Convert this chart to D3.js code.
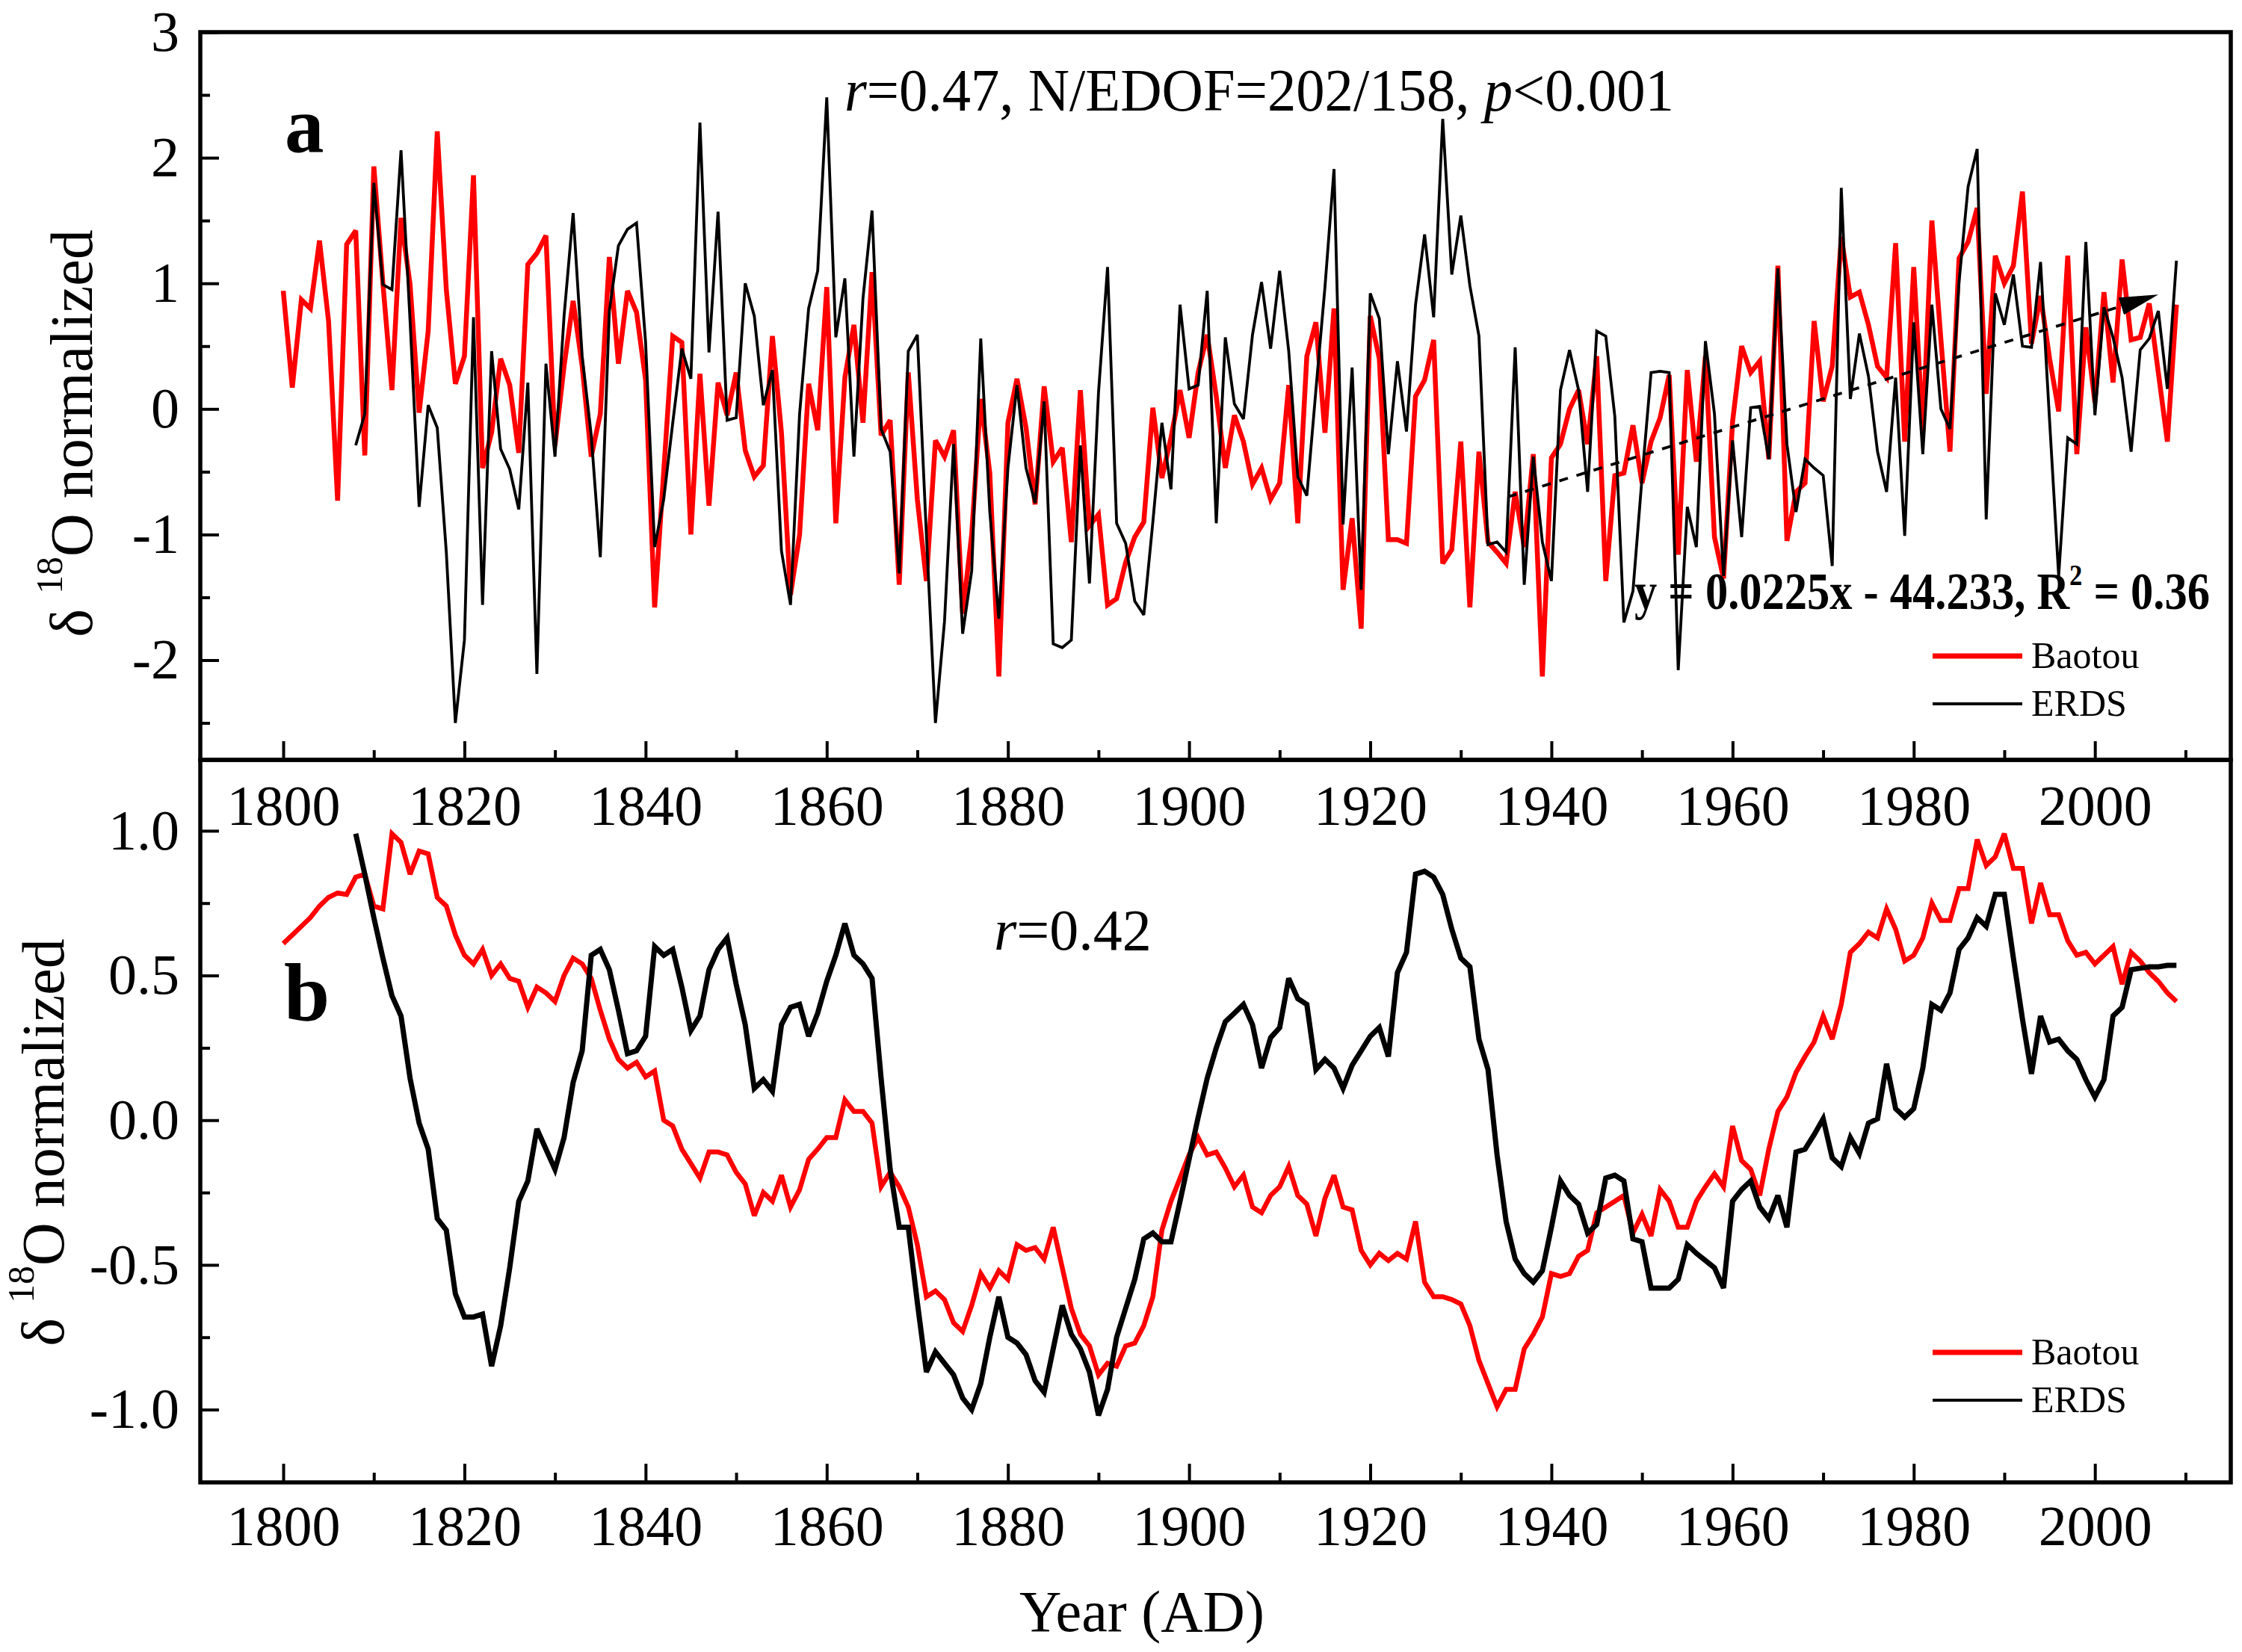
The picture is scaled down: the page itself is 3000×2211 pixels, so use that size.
<!DOCTYPE html>
<html lang="en">
<head>
<meta charset="UTF-8">
<title>Baotou / ERDS d18O</title>
<script src="https://cdn.jsdelivr.net/npm/d3@7/dist/d3.min.js"></script>
<style>
  body, html { margin: 0; padding: 0; background: #fff; overflow: hidden; }
  svg { display: block; }
</style>
</head>
<body>
<svg id="mainsvg"></svg>
<script>
// ---- data ----
// panel a: annual normalized d18O
const baotouStartA = 1800;
const baotouA = [0.94,0.17,0.87,0.80,1.34,0.70,-0.73,1.31,1.42,-0.37,
  1.93,1.00,0.15,1.52,0.99,-0.03,0.62,2.21,0.95,0.20,
  0.42,1.86,-0.47,-0.19,0.40,0.19,-0.35,1.15,1.24,1.38,
  -0.29,0.34,0.86,0.34,-0.38,-0.04,1.21,0.36,0.94,0.77,
  0.23,-1.58,-0.50,0.58,0.53,-1.00,0.28,-0.77,0.21,-0.05,
  0.29,-0.33,-0.54,-0.45,0.58,-0.19,-1.48,-1.00,0.20,-0.17,
  0.97,-0.91,0.25,0.67,-0.11,1.09,-0.21,-0.09,-1.40,0.29,
  -0.72,-1.37,-0.25,-0.38,-0.17,-1.63,-1.00,0.08,-0.51,-2.13,
  -0.11,0.24,-0.15,-0.76,0.18,-0.42,-0.31,-1.06,0.15,-0.93,
  -0.84,-1.56,-1.51,-1.22,-1.02,-0.90,0.01,-0.55,-0.23,0.15,
  -0.23,0.29,0.59,0.10,-0.47,-0.05,-0.26,-0.60,-0.47,-0.72,
  -0.59,0.19,-0.91,0.42,0.69,-0.19,0.80,-1.44,-0.87,-1.75,
  0.74,0.40,-1.04,-1.04,-1.07,0.10,0.23,0.55,-1.23,-1.12,
  -0.26,-1.58,-0.34,-1.06,-1.14,-1.23,-0.66,-1.10,-0.36,-2.13,
  -0.39,-0.28,0.00,0.15,-0.28,0.42,-1.37,-0.53,-0.51,-0.13,
  -0.59,-0.26,-0.07,0.27,-1.16,0.31,-0.42,0.42,-1.02,-1.35,
  -0.10,0.50,0.29,0.38,-0.40,1.14,-1.05,-0.66,-0.59,0.70,
  0.06,0.34,1.37,0.89,0.93,0.67,0.34,0.25,1.32,-0.26,
  1.13,-0.19,1.50,0.55,-0.34,1.20,1.33,1.60,0.12,1.22,
  1.00,1.14,1.73,0.52,0.90,0.40,-0.02,1.22,-0.36,0.65,
  0.05,0.93,0.21,1.19,0.55,0.57,0.84,0.29,-0.26,0.83];

const erdsStartA = 1808;
const erdsA = [-0.29,-0.04,
  1.80,0.99,0.95,2.06,0.70,-0.78,0.03,-0.15,-1.14,-2.50,
  -1.84,0.73,-1.56,0.46,-0.32,-0.48,-0.80,0.21,-2.11,0.36,
  -0.38,0.74,1.56,0.42,-0.21,-1.18,0.78,1.30,1.43,1.48,
  0.53,-1.10,-0.72,-0.11,0.48,0.24,2.28,0.45,1.57,-0.09,
  -0.07,1.00,0.74,0.03,0.31,-1.13,-1.56,-0.04,0.80,1.10,
  2.48,0.57,1.04,-0.38,0.88,1.58,-0.16,-0.34,-1.31,0.46,
  0.59,-1.00,-2.50,-1.69,-0.28,-1.79,-1.29,0.56,-0.82,-1.67,
  -0.47,0.19,-0.47,-0.75,0.06,-1.87,-1.90,-1.84,-0.29,-1.39,
  0.13,1.13,-0.91,-1.07,-1.53,-1.64,-0.90,-0.11,-0.64,0.83,
  0.16,0.19,0.94,-0.91,0.57,0.04,-0.08,0.59,1.01,0.48,
  1.10,0.46,-0.54,-0.69,0.15,0.97,1.91,-0.92,0.33,-1.44,
  0.92,0.72,-0.36,0.38,-0.18,0.83,1.39,0.73,2.31,1.07,
  1.54,0.98,0.58,-1.08,-1.06,-1.14,0.49,-1.40,-0.38,-1.06,
  -1.37,0.15,0.47,0.15,-0.66,0.62,0.58,-0.06,-1.70,-1.45,
  -0.55,0.29,0.30,0.29,-2.08,-0.78,-1.10,0.54,-0.04,-1.33,
  -0.25,-1.02,0.01,0.02,-0.40,1.12,-0.28,-0.82,-0.40,-0.47,
  -0.53,-1.25,1.76,0.08,0.60,0.26,-0.34,-0.66,0.25,-1.01,
  0.69,-0.36,0.83,0.00,-0.16,1.01,1.77,2.07,-0.88,0.92,
  0.67,1.07,0.50,0.49,1.17,-0.10,-1.33,-0.23,-0.28,1.33,
  -0.05,0.81,0.57,0.25,-0.34,0.47,0.56,0.78,0.16,1.18];

// linear trend drawn over ERDS (start/end)
const trendYears = [1935.2, 2007];
const trendValues = [-0.70, 0.91];

// panel b: smoothed series
const baotouStartB = 1800;
const baotouB = [0.61,0.64,0.67,0.70,0.74,0.77,0.785,0.78,0.84,0.85,
  0.74,0.73,0.99,0.96,0.85,0.93,0.92,0.77,0.74,0.64,
  0.57,0.54,0.59,0.50,0.54,0.49,0.48,0.39,0.46,0.44,
  0.41,0.50,0.56,0.54,0.49,0.38,0.28,0.21,0.18,0.20,
  0.15,0.17,0.00,-0.02,-0.10,-0.15,-0.20,-0.11,-0.11,-0.12,
  -0.18,-0.22,-0.33,-0.25,-0.28,-0.19,-0.30,-0.24,-0.135,-0.10,
  -0.06,-0.06,0.07,0.03,0.03,-0.01,-0.23,-0.18,-0.23,-0.30,
  -0.43,-0.61,-0.59,-0.62,-0.70,-0.73,-0.64,-0.53,-0.58,-0.52,
  -0.55,-0.43,-0.45,-0.44,-0.48,-0.37,-0.51,-0.65,-0.74,-0.78,
  -0.88,-0.84,-0.85,-0.78,-0.77,-0.71,-0.61,-0.38,-0.28,-0.20,
  -0.12,-0.06,-0.12,-0.11,-0.165,-0.23,-0.19,-0.30,-0.32,-0.26,
  -0.23,-0.16,-0.26,-0.29,-0.40,-0.27,-0.19,-0.30,-0.31,-0.45,
  -0.50,-0.46,-0.485,-0.46,-0.48,-0.35,-0.56,-0.61,-0.61,-0.62,
  -0.635,-0.71,-0.83,-0.91,-0.99,-0.93,-0.93,-0.79,-0.74,-0.68,
  -0.53,-0.54,-0.53,-0.47,-0.45,-0.32,-0.30,-0.28,-0.26,-0.39,
  -0.325,-0.40,-0.24,-0.28,-0.37,-0.37,-0.28,-0.23,-0.185,-0.23,
  -0.02,-0.14,-0.17,-0.26,-0.10,0.03,0.08,0.165,0.22,0.27,
  0.36,0.28,0.40,0.58,0.61,0.65,0.63,0.73,0.66,0.55,
  0.57,0.63,0.75,0.69,0.69,0.80,0.80,0.97,0.88,0.91,
  0.99,0.87,0.87,0.68,0.82,0.71,0.71,0.62,0.57,0.58,
  0.54,0.57,0.60,0.47,0.58,0.55,0.51,0.48,0.44,0.41];

const erdsStartB = 1808;
const erdsB = [0.99,0.85,
  0.70,0.56,0.43,0.36,0.145,-0.01,-0.10,-0.34,-0.38,-0.60,
  -0.68,-0.68,-0.67,-0.85,-0.71,-0.51,-0.28,-0.21,-0.03,-0.10,
  -0.17,-0.06,0.13,0.24,0.57,0.59,0.52,0.38,0.23,0.24,
  0.29,0.60,0.57,0.59,0.46,0.31,0.36,0.52,0.59,0.63,
  0.47,0.33,0.11,0.14,0.10,0.33,0.39,0.40,0.29,0.37,
  0.48,0.57,0.68,0.57,0.54,0.49,0.145,-0.17,-0.37,-0.37,
  -0.63,-0.87,-0.80,-0.84,-0.88,-0.96,-1.00,-0.91,-0.75,-0.61,
  -0.75,-0.77,-0.81,-0.90,-0.94,-0.79,-0.64,-0.74,-0.79,-0.87,
  -1.02,-0.93,-0.75,-0.65,-0.55,-0.41,-0.39,-0.42,-0.42,-0.28,
  -0.135,0.01,0.145,0.25,0.34,0.37,0.40,0.33,0.18,0.285,
  0.32,0.49,0.42,0.40,0.175,0.21,0.18,0.11,0.19,0.24,
  0.29,0.32,0.22,0.51,0.58,0.85,0.86,0.84,0.78,0.66,
  0.56,0.53,0.28,0.175,-0.12,-0.35,-0.48,-0.53,-0.56,-0.52,
  -0.37,-0.21,-0.26,-0.29,-0.39,-0.36,-0.20,-0.19,-0.21,-0.41,
  -0.42,-0.58,-0.58,-0.58,-0.55,-0.43,-0.46,-0.485,-0.51,-0.58,
  -0.28,-0.24,-0.21,-0.30,-0.34,-0.26,-0.37,-0.11,-0.10,-0.05,
  0.005,-0.13,-0.16,-0.06,-0.115,-0.01,0.005,0.195,0.04,0.01,
  0.04,0.18,0.40,0.38,0.44,0.59,0.63,0.70,0.67,0.78,
  0.78,0.56,0.35,0.16,0.36,0.27,0.28,0.24,0.21,0.14,
  0.08,0.14,0.36,0.39,0.52,0.525,0.53,0.53,0.535,0.535];

// axis ticks
const yearLabels = [1800, 1820, 1840, 1860, 1880, 1900, 1920, 1940, 1960, 1980, 2000];
const yearMinor = [1810, 1830, 1850, 1870, 1890, 1910, 1930, 1950, 1970, 1990, 2010];
const yTicksA = [-2, -1, 0, 1, 2, 3];
const yMinorA = [-2.5, -1.5, -0.5, 0.5, 1.5, 2.5];
const yTicksB = [-1.0, -0.5, 0.0, 0.5, 1.0];
const yMinorB = [-0.75, -0.25, 0.25, 0.75];

// ---- drawing ----
const width = 3000, height = 2211;
const serif = '"Liberation Serif", "Times New Roman", serif';
const svg = d3.select('#mainsvg').attr('width', width).attr('height', height);
svg.append('rect').attr('width', width).attr('height', height).attr('fill', '#fff');

const left = 268, right = 2985, topA = 43, mid = 1017, bottomB = 1984;

const x = d3.scaleLinear().domain([1790.84, 2015]).range([left, right]);
const yA = d3.scaleLinear().domain([-2.794, 3]).range([mid, topA]);
const yB = d3.scaleLinear().domain([-1.2515, 1.245]).range([bottomB, mid]);

const hyphen = f => d => f(d).replace('\u2212', '-');

function styleAxis(g) {
    g.attr('font-family', serif).attr('font-size', 76);
    g.select('.domain').remove();
    g.selectAll('.tick line').attr('stroke', '#000').attr('stroke-width', 4);
    g.selectAll('.tick text').attr('fill', '#000');
}

// x axes (ticks point inward)
function xAxes(yPos, pad) {
    svg.append('g').attr('transform', `translate(0,${yPos})`)
        .call(d3.axisBottom(x).tickValues(yearLabels).tickSize(-25).tickPadding(pad).tickFormat(d3.format('d')))
        .call(styleAxis);
    svg.append('g').attr('transform', `translate(0,${yPos})`)
        .call(d3.axisBottom(x).tickValues(yearMinor).tickSize(-13).tickFormat(''))
        .call(styleAxis);
}
xAxes(mid, 33);
xAxes(bottomB, 30);

// y axes
svg.append('g').attr('transform', `translate(${left},0)`)
    .call(d3.axisLeft(yA).tickValues(yTicksA).tickSize(-25).tickPadding(28).tickFormat(hyphen(d3.format('d'))))
    .call(styleAxis);
svg.append('g').attr('transform', `translate(${left},0)`)
    .call(d3.axisLeft(yA).tickValues(yMinorA).tickSize(-13).tickFormat(''))
    .call(styleAxis);
svg.append('g').attr('transform', `translate(${left},0)`)
    .call(d3.axisLeft(yB).tickValues(yTicksB).tickSize(-25).tickPadding(28).tickFormat(hyphen(d3.format('.1f'))))
    .call(styleAxis);
svg.append('g').attr('transform', `translate(${left},0)`)
    .call(d3.axisLeft(yB).tickValues(yMinorB).tickSize(-13).tickFormat(''))
    .call(styleAxis);

// series
function drawSeries(values, start, yScale, color, w) {
    const pts = values.map((v, i) => [start + i, v]);
    svg.append('path')
        .datum(pts)
        .attr('fill', 'none')
        .attr('stroke', color)
        .attr('stroke-width', w)
        .attr('stroke-linejoin', 'miter')
        .attr('stroke-miterlimit', 3)
        .attr('d', d3.line().x(d => x(d[0])).y(d => yScale(d[1])));
}
drawSeries(baotouA, baotouStartA, yA, '#ff0000', 6.5);
drawSeries(erdsA, erdsStartA, yA, '#000', 3.8);
drawSeries(baotouB, baotouStartB, yB, '#ff0000', 6.5);
drawSeries(erdsB, erdsStartB, yB, '#000', 7);

// trend line with arrow head
svg.append('defs').append('marker')
    .attr('id', 'arrowhead')
    .attr('markerUnits', 'userSpaceOnUse')
    .attr('markerWidth', 60).attr('markerHeight', 30)
    .attr('refX', 52).attr('refY', 12)
    .attr('orient', 'auto')
    .append('path').attr('d', 'M0,0 L52,12 L0,24 Z').attr('fill', '#000');
svg.append('path')
    .datum(trendYears.map((t, i) => [t, trendValues[i]]))
    .attr('fill', 'none')
    .attr('stroke', '#000')
    .attr('stroke-width', 3.8)
    .attr('stroke-dasharray', '12,12')
    .attr('marker-end', 'url(#arrowhead)')
    .attr('d', d3.line().x(d => x(d[0])).y(d => yA(d[1])));

// frames
svg.append('rect').attr('x', left).attr('y', topA).attr('width', right - left).attr('height', mid - topA)
    .attr('fill', 'none').attr('stroke', '#000').attr('stroke-width', 5.5);
svg.append('rect').attr('x', left).attr('y', mid).attr('width', right - left).attr('height', bottomB - mid)
    .attr('fill', 'none').attr('stroke', '#000').attr('stroke-width', 5.5);

// squeeze a text horizontally so it spans the measured width
function fitWidth(t, x0, y0, target) {
    const len = t.node().getComputedTextLength();
    const k = len > 0 ? target / len : 1;
    t.attr('x', null).attr('y', null)
        .attr('transform', `translate(${x0},${y0}) scale(${k},1)`);
}

// y titles
function yTitle(bx, cy) {
    const t = svg.append('text')
        .attr('transform', `translate(${bx},${cy}) rotate(-90)`)
        .attr('text-anchor', 'middle')
        .attr('font-family', serif).attr('font-size', 80).attr('fill', '#000');
    t.append('tspan').text('\u03b4 ');
    t.append('tspan').attr('font-size', 50).attr('dy', -40).text('18');
    t.append('tspan').attr('dy', 40).text('O normalized');
}
yTitle(123, 580);
yTitle(85, 1529);

// x title
svg.append('text').attr('x', 1528).attr('y', 2183).attr('text-anchor', 'middle')
    .attr('font-family', serif).attr('font-size', 78).text('Year (AD)');

// panel letters
svg.append('text').attr('x', 381).attr('y', 203).attr('font-family', serif)
    .attr('font-weight', 'bold').attr('font-size', 105).text('a');
svg.append('text').attr('x', 380).attr('y', 1366).attr('font-family', serif)
    .attr('font-weight', 'bold').attr('font-size', 110).text('b');

// statistics
const statA = svg.append('text').attr('font-family', serif).attr('font-size', 80);
statA.append('tspan').attr('font-style', 'italic').text('r');
statA.append('tspan').text('=0.47, N/EDOF=202/158, ');
statA.append('tspan').attr('font-style', 'italic').text('p');
statA.append('tspan').text('<0.001');
fitWidth(statA, 1130, 148, 1110);

const statB = svg.append('text').attr('x', 1330).attr('y', 1271)
    .attr('font-family', serif).attr('font-size', 78);
statB.append('tspan').attr('font-style', 'italic').text('r');
statB.append('tspan').text('=0.42');

const eq = svg.append('text')
    .attr('font-family', serif).attr('font-weight', 'bold').attr('font-size', 70);
eq.append('tspan').text('y = 0.0225x - 44.233, R');
eq.append('tspan').attr('font-size', 40).attr('dy', -32).text('2');
eq.append('tspan').attr('dy', 32).text(' = 0.36');
fitWidth(eq, 2187, 815, 770);

// legends
function legend(yRed, yBlack) {
    svg.append('line').attr('x1', 2586).attr('x2', 2706).attr('y1', yRed).attr('y2', yRed)
        .attr('stroke', '#ff0000').attr('stroke-width', 7);
    svg.append('line').attr('x1', 2586).attr('x2', 2706).attr('y1', yBlack).attr('y2', yBlack)
        .attr('stroke', '#000').attr('stroke-width', 3.8);
    svg.append('text').attr('x', 2718).attr('y', yRed + 16).attr('font-family', serif)
        .attr('font-size', 50).text('Baotou');
    svg.append('text').attr('x', 2718).attr('y', yBlack + 16).attr('font-family', serif)
        .attr('font-size', 50).text('ERDS');
}
legend(878, 942);
legend(1810, 1874);
</script>
</body>
</html>
